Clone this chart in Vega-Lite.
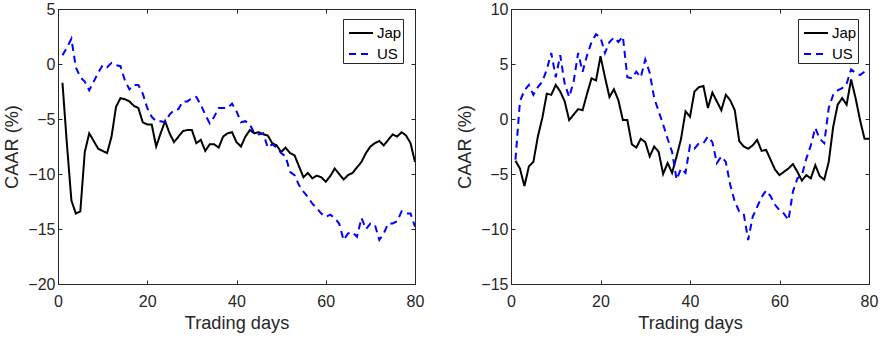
{
  "$schema": "https://vega.github.io/schema/vega-lite/v6.json",
  "padding": {"left": 2, "top": 0, "right": 5, "bottom": 2},
  "datasets": {
    "left": [
      {"day":1,"series":"Jap","value":-1.7},{"day":2,"series":"Jap","value":-7.3},{"day":3,"series":"Jap","value":-12.4},{"day":4,"series":"Jap","value":-13.6},{"day":5,"series":"Jap","value":-13.4},{"day":6,"series":"Jap","value":-8.0},{"day":7,"series":"Jap","value":-6.3},{"day":8,"series":"Jap","value":-7.0},{"day":9,"series":"Jap","value":-7.7},{"day":10,"series":"Jap","value":-7.9},
      {"day":11,"series":"Jap","value":-8.1},{"day":12,"series":"Jap","value":-6.6},{"day":13,"series":"Jap","value":-3.9},{"day":14,"series":"Jap","value":-3.1},{"day":15,"series":"Jap","value":-3.2},{"day":16,"series":"Jap","value":-3.4},{"day":17,"series":"Jap","value":-3.8},{"day":18,"series":"Jap","value":-4.0},{"day":19,"series":"Jap","value":-5.3},{"day":20,"series":"Jap","value":-5.5},
      {"day":21,"series":"Jap","value":-5.5},{"day":22,"series":"Jap","value":-7.5},{"day":23,"series":"Jap","value":-6.3},{"day":24,"series":"Jap","value":-5.2},{"day":25,"series":"Jap","value":-6.3},{"day":26,"series":"Jap","value":-7.1},{"day":27,"series":"Jap","value":-6.6},{"day":28,"series":"Jap","value":-6.1},{"day":29,"series":"Jap","value":-6.0},{"day":30,"series":"Jap","value":-6.0},
      {"day":31,"series":"Jap","value":-7.2},{"day":32,"series":"Jap","value":-6.9},{"day":33,"series":"Jap","value":-7.9},{"day":34,"series":"Jap","value":-7.3},{"day":35,"series":"Jap","value":-7.3},{"day":36,"series":"Jap","value":-7.6},{"day":37,"series":"Jap","value":-6.6},{"day":38,"series":"Jap","value":-6.3},{"day":39,"series":"Jap","value":-6.2},{"day":40,"series":"Jap","value":-7.1},
      {"day":41,"series":"Jap","value":-7.5},{"day":42,"series":"Jap","value":-6.6},{"day":43,"series":"Jap","value":-6.0},{"day":44,"series":"Jap","value":-6.3},{"day":45,"series":"Jap","value":-6.2},{"day":46,"series":"Jap","value":-6.4},{"day":47,"series":"Jap","value":-6.5},{"day":48,"series":"Jap","value":-7.2},{"day":49,"series":"Jap","value":-7.4},{"day":50,"series":"Jap","value":-8.0},
      {"day":51,"series":"Jap","value":-7.6},{"day":52,"series":"Jap","value":-8.1},{"day":53,"series":"Jap","value":-8.3},{"day":54,"series":"Jap","value":-9.3},{"day":55,"series":"Jap","value":-10.3},{"day":56,"series":"Jap","value":-9.9},{"day":57,"series":"Jap","value":-10.4},{"day":58,"series":"Jap","value":-10.15},{"day":59,"series":"Jap","value":-10.3},{"day":60,"series":"Jap","value":-10.7},
      {"day":61,"series":"Jap","value":-10.2},{"day":62,"series":"Jap","value":-9.5},{"day":63,"series":"Jap","value":-10.0},{"day":64,"series":"Jap","value":-10.5},{"day":65,"series":"Jap","value":-10.1},{"day":66,"series":"Jap","value":-9.9},{"day":67,"series":"Jap","value":-9.4},{"day":68,"series":"Jap","value":-8.9},{"day":69,"series":"Jap","value":-8.1},{"day":70,"series":"Jap","value":-7.5},
      {"day":71,"series":"Jap","value":-7.2},{"day":72,"series":"Jap","value":-7.0},{"day":73,"series":"Jap","value":-7.4},{"day":74,"series":"Jap","value":-6.9},{"day":75,"series":"Jap","value":-6.4},{"day":76,"series":"Jap","value":-6.6},{"day":77,"series":"Jap","value":-6.2},{"day":78,"series":"Jap","value":-6.5},{"day":79,"series":"Jap","value":-7.2},{"day":80,"series":"Jap","value":-8.9},
      {"day":1,"series":"US","value":0.8},{"day":2,"series":"US","value":1.5},{"day":3,"series":"US","value":2.3},{"day":4,"series":"US","value":-0.3},{"day":5,"series":"US","value":-1.2},{"day":6,"series":"US","value":-1.6},{"day":7,"series":"US","value":-2.4},{"day":8,"series":"US","value":-1.6},{"day":9,"series":"US","value":-0.8},{"day":10,"series":"US","value":-0.1},
      {"day":11,"series":"US","value":-0.3},{"day":12,"series":"US","value":0.1},{"day":13,"series":"US","value":-0.1},{"day":14,"series":"US","value":-0.2},{"day":15,"series":"US","value":-1.5},{"day":16,"series":"US","value":-2.3},{"day":17,"series":"US","value":-1.9},{"day":18,"series":"US","value":-1.9},{"day":19,"series":"US","value":-2.7},{"day":20,"series":"US","value":-4.0},
      {"day":21,"series":"US","value":-4.8},{"day":22,"series":"US","value":-5.2},{"day":23,"series":"US","value":-5.2},{"day":24,"series":"US","value":-5.3},{"day":25,"series":"US","value":-4.6},{"day":26,"series":"US","value":-4.2},{"day":27,"series":"US","value":-4.1},{"day":28,"series":"US","value":-3.4},{"day":29,"series":"US","value":-3.4},{"day":30,"series":"US","value":-3.1},
      {"day":31,"series":"US","value":-3.0},{"day":32,"series":"US","value":-3.7},{"day":33,"series":"US","value":-4.6},{"day":34,"series":"US","value":-5.4},{"day":35,"series":"US","value":-4.8},{"day":36,"series":"US","value":-4.0},{"day":37,"series":"US","value":-4.0},{"day":38,"series":"US","value":-4.0},{"day":39,"series":"US","value":-3.6},{"day":40,"series":"US","value":-4.3},
      {"day":41,"series":"US","value":-5.3},{"day":42,"series":"US","value":-5.2},{"day":43,"series":"US","value":-5.5},{"day":44,"series":"US","value":-6.3},{"day":45,"series":"US","value":-6.4},{"day":46,"series":"US","value":-6.3},{"day":47,"series":"US","value":-7.6},{"day":48,"series":"US","value":-7.3},{"day":49,"series":"US","value":-7.6},{"day":50,"series":"US","value":-8.1},
      {"day":51,"series":"US","value":-8.4},{"day":52,"series":"US","value":-9.8},{"day":53,"series":"US","value":-10.1},{"day":54,"series":"US","value":-11.0},{"day":55,"series":"US","value":-11.6},{"day":56,"series":"US","value":-12.1},{"day":57,"series":"US","value":-12.7},{"day":58,"series":"US","value":-13.1},{"day":59,"series":"US","value":-13.6},{"day":60,"series":"US","value":-13.9},
      {"day":61,"series":"US","value":-13.7},{"day":62,"series":"US","value":-14.0},{"day":63,"series":"US","value":-14.5},{"day":64,"series":"US","value":-16.0},{"day":65,"series":"US","value":-15.4},{"day":66,"series":"US","value":-15.3},{"day":67,"series":"US","value":-15.7},{"day":68,"series":"US","value":-14.0},{"day":69,"series":"US","value":-15.0},{"day":70,"series":"US","value":-14.5},
      {"day":71,"series":"US","value":-14.6},{"day":72,"series":"US","value":-16.0},{"day":73,"series":"US","value":-15.4},{"day":74,"series":"US","value":-14.5},{"day":75,"series":"US","value":-14.5},{"day":76,"series":"US","value":-14.3},{"day":77,"series":"US","value":-13.4},{"day":78,"series":"US","value":-13.6},{"day":79,"series":"US","value":-13.6},{"day":80,"series":"US","value":-14.8}
    ],
    "right": [
      {"day":1,"series":"Jap","value":-3.8},{"day":2,"series":"Jap","value":-4.5},{"day":3,"series":"Jap","value":-6.1},{"day":4,"series":"Jap","value":-4.3},{"day":5,"series":"Jap","value":-3.9},{"day":6,"series":"Jap","value":-1.6},{"day":7,"series":"Jap","value":0.1},{"day":8,"series":"Jap","value":2.3},{"day":9,"series":"Jap","value":2.2},{"day":10,"series":"Jap","value":3.1},
      {"day":11,"series":"Jap","value":2.5},{"day":12,"series":"Jap","value":1.6},{"day":13,"series":"Jap","value":-0.1},{"day":14,"series":"Jap","value":0.4},{"day":15,"series":"Jap","value":0.9},{"day":16,"series":"Jap","value":0.8},{"day":17,"series":"Jap","value":2.3},{"day":18,"series":"Jap","value":3.7},{"day":19,"series":"Jap","value":3.5},{"day":20,"series":"Jap","value":5.7},
      {"day":21,"series":"Jap","value":3.8},{"day":22,"series":"Jap","value":2.0},{"day":23,"series":"Jap","value":2.7},{"day":24,"series":"Jap","value":1.7},{"day":25,"series":"Jap","value":-0.1},{"day":26,"series":"Jap","value":-0.1},{"day":27,"series":"Jap","value":-2.3},{"day":28,"series":"Jap","value":-2.6},{"day":29,"series":"Jap","value":-1.8},{"day":30,"series":"Jap","value":-2.1},
      {"day":31,"series":"Jap","value":-3.4},{"day":32,"series":"Jap","value":-2.5},{"day":33,"series":"Jap","value":-3.0},{"day":34,"series":"Jap","value":-5.0},{"day":35,"series":"Jap","value":-4.0},{"day":36,"series":"Jap","value":-4.9},{"day":37,"series":"Jap","value":-3.4},{"day":38,"series":"Jap","value":-1.8},{"day":39,"series":"Jap","value":0.7},{"day":40,"series":"Jap","value":0.2},
      {"day":41,"series":"Jap","value":2.5},{"day":42,"series":"Jap","value":2.9},{"day":43,"series":"Jap","value":3.0},{"day":44,"series":"Jap","value":1.0},{"day":45,"series":"Jap","value":2.4},{"day":46,"series":"Jap","value":1.6},{"day":47,"series":"Jap","value":0.8},{"day":48,"series":"Jap","value":2.2},{"day":49,"series":"Jap","value":1.7},{"day":50,"series":"Jap","value":0.8},
      {"day":51,"series":"Jap","value":-2.0},{"day":52,"series":"Jap","value":-2.5},{"day":53,"series":"Jap","value":-2.7},{"day":54,"series":"Jap","value":-2.4},{"day":55,"series":"Jap","value":-1.9},{"day":56,"series":"Jap","value":-2.9},{"day":57,"series":"Jap","value":-2.8},{"day":58,"series":"Jap","value":-3.7},{"day":59,"series":"Jap","value":-4.6},{"day":60,"series":"Jap","value":-5.1},
      {"day":61,"series":"Jap","value":-4.8},{"day":62,"series":"Jap","value":-4.5},{"day":63,"series":"Jap","value":-4.1},{"day":64,"series":"Jap","value":-4.8},{"day":65,"series":"Jap","value":-5.6},{"day":66,"series":"Jap","value":-5.1},{"day":67,"series":"Jap","value":-5.4},{"day":68,"series":"Jap","value":-4.2},{"day":69,"series":"Jap","value":-5.2},{"day":70,"series":"Jap","value":-5.5},
      {"day":71,"series":"Jap","value":-3.9},{"day":72,"series":"Jap","value":-0.7},{"day":73,"series":"Jap","value":1.3},{"day":74,"series":"Jap","value":1.9},{"day":75,"series":"Jap","value":1.3},{"day":76,"series":"Jap","value":3.6},{"day":77,"series":"Jap","value":1.9},{"day":78,"series":"Jap","value":-0.1},{"day":79,"series":"Jap","value":-1.8},{"day":80,"series":"Jap","value":-1.8},
      {"day":1,"series":"US","value":-3.7},{"day":2,"series":"US","value":1.6},{"day":3,"series":"US","value":2.6},{"day":4,"series":"US","value":3.1},{"day":5,"series":"US","value":2.2},{"day":6,"series":"US","value":2.9},{"day":7,"series":"US","value":3.4},{"day":8,"series":"US","value":4.5},{"day":9,"series":"US","value":6.0},{"day":10,"series":"US","value":3.8},
      {"day":11,"series":"US","value":5.8},{"day":12,"series":"US","value":3.2},{"day":13,"series":"US","value":2.0},{"day":14,"series":"US","value":3.4},{"day":15,"series":"US","value":6.0},{"day":16,"series":"US","value":4.3},{"day":17,"series":"US","value":5.8},{"day":18,"series":"US","value":7.0},{"day":19,"series":"US","value":7.7},{"day":20,"series":"US","value":7.4},
      {"day":21,"series":"US","value":6.0},{"day":22,"series":"US","value":7.0},{"day":23,"series":"US","value":7.4},{"day":24,"series":"US","value":7.0},{"day":25,"series":"US","value":7.5},{"day":26,"series":"US","value":3.8},{"day":27,"series":"US","value":3.7},{"day":28,"series":"US","value":4.3},{"day":29,"series":"US","value":3.8},{"day":30,"series":"US","value":5.4},
      {"day":31,"series":"US","value":4.2},{"day":32,"series":"US","value":1.9},{"day":33,"series":"US","value":0.7},{"day":34,"series":"US","value":-0.5},{"day":35,"series":"US","value":-1.8},{"day":36,"series":"US","value":-3.0},{"day":37,"series":"US","value":-5.5},{"day":38,"series":"US","value":-4.5},{"day":39,"series":"US","value":-4.9},{"day":40,"series":"US","value":-2.4},
      {"day":41,"series":"US","value":-2.7},{"day":42,"series":"US","value":-2.2},{"day":43,"series":"US","value":-2.2},{"day":44,"series":"US","value":-1.6},{"day":45,"series":"US","value":-2.1},{"day":46,"series":"US","value":-4.0},{"day":47,"series":"US","value":-3.4},{"day":48,"series":"US","value":-3.9},{"day":49,"series":"US","value":-6.0},{"day":50,"series":"US","value":-7.5},
      {"day":51,"series":"US","value":-8.4},{"day":52,"series":"US","value":-8.6},{"day":53,"series":"US","value":-11.0},{"day":54,"series":"US","value":-8.9},{"day":55,"series":"US","value":-8.0},{"day":56,"series":"US","value":-7.1},{"day":57,"series":"US","value":-6.5},{"day":58,"series":"US","value":-7.0},{"day":59,"series":"US","value":-7.8},{"day":60,"series":"US","value":-8.3},
      {"day":61,"series":"US","value":-8.6},{"day":62,"series":"US","value":-9.2},{"day":63,"series":"US","value":-6.6},{"day":64,"series":"US","value":-5.4},{"day":65,"series":"US","value":-5.1},{"day":66,"series":"US","value":-3.6},{"day":67,"series":"US","value":-2.4},{"day":68,"series":"US","value":-0.8},{"day":69,"series":"US","value":-1.8},{"day":70,"series":"US","value":-2.2},
      {"day":71,"series":"US","value":1.0},{"day":72,"series":"US","value":2.2},{"day":73,"series":"US","value":2.6},{"day":74,"series":"US","value":2.8},{"day":75,"series":"US","value":3.2},{"day":76,"series":"US","value":4.5},{"day":77,"series":"US","value":4.2},{"day":78,"series":"US","value":4.0},{"day":79,"series":"US","value":4.3},{"day":80,"series":"US","value":4.5}
    ]
  },
  "hconcat": [
    {
      "width": 357, "height": 275,
      "data": {"name": "left"},
      "layer": [
        {
          "mark": {"type": "line", "strokeWidth": 2, "clip": true},
          "encoding": {
            "x": {"field": "day", "type": "quantitative", "scale": {"domain": [0, 80], "nice": false, "zero": false}, "axis": {"values": [0, 20, 40, 60, 80], "title": "Trading days"}},
            "y": {"field": "value", "type": "quantitative", "scale": {"domain": [-20, 5], "nice": false, "zero": false}, "axis": {"values": [-20, -15, -10, -5, 0, 5], "title": "CAAR (%)"}},
            "stroke": {"field": "series", "type": "nominal", "scale": {"domain": ["Jap", "US"], "range": ["#000000", "#0000ff"]}, "legend": {"title": null, "orient": "none", "legendX": 285, "legendY": 10}},
            "strokeDash": {"field": "series", "type": "nominal", "scale": {"domain": ["Jap", "US"], "range": [[1, 0], [7, 5]]}, "legend": {"title": null, "orient": "none", "legendX": 285, "legendY": 10}}
          }
        },
        {
          "mark": {"type": "point", "opacity": 0},
          "encoding": {
            "x": {"field": "day", "type": "quantitative", "scale": {"domain": [0, 80], "nice": false, "zero": false}, "axis": {"orient": "top", "values": [0, 20, 40, 60, 80], "labels": false, "title": null}},
            "y": {"field": "value", "type": "quantitative", "scale": {"domain": [-20, 5], "nice": false, "zero": false}, "axis": {"orient": "right", "values": [-20, -15, -10, -5, 0, 5], "labels": false, "title": null}}
          }
        }
      ],
      "resolve": {"axis": {"x": "independent", "y": "independent"}}
    },
    {
      "width": 358, "height": 275,
      "data": {"name": "right"},
      "layer": [
        {
          "mark": {"type": "line", "strokeWidth": 2, "clip": true},
          "encoding": {
            "x": {"field": "day", "type": "quantitative", "scale": {"domain": [0, 80], "nice": false, "zero": false}, "axis": {"values": [0, 20, 40, 60, 80], "title": "Trading days"}},
            "y": {"field": "value", "type": "quantitative", "scale": {"domain": [-15, 10], "nice": false, "zero": false}, "axis": {"values": [-15, -10, -5, 0, 5, 10], "title": "CAAR (%)"}},
            "stroke": {"field": "series", "type": "nominal", "scale": {"domain": ["Jap", "US"], "range": ["#000000", "#0000ff"]}, "legend": {"title": null, "orient": "none", "legendX": 287, "legendY": 10}},
            "strokeDash": {"field": "series", "type": "nominal", "scale": {"domain": ["Jap", "US"], "range": [[1, 0], [7, 5]]}, "legend": {"title": null, "orient": "none", "legendX": 287, "legendY": 10}}
          }
        },
        {
          "mark": {"type": "point", "opacity": 0},
          "encoding": {
            "x": {"field": "day", "type": "quantitative", "scale": {"domain": [0, 80], "nice": false, "zero": false}, "axis": {"orient": "top", "values": [0, 20, 40, 60, 80], "labels": false, "title": null}},
            "y": {"field": "value", "type": "quantitative", "scale": {"domain": [-15, 10], "nice": false, "zero": false}, "axis": {"orient": "right", "values": [-15, -10, -5, 0, 5, 10], "labels": false, "title": null}}
          }
        }
      ],
      "resolve": {"axis": {"x": "independent", "y": "independent"}}
    }
  ],
  "resolve": {"scale": {"stroke": "independent", "strokeDash": "independent"}, "legend": {"stroke": "independent", "strokeDash": "independent"}},
  "spacing": 30,
  "config": {
    "font": "Liberation Sans",
    "view": {"stroke": "#262626", "strokeWidth": 1},
    "axis": {
      "grid": false,
      "ticks": true,
      "labelFlush": false,
      "domainColor": "#262626",
      "tickColor": "#262626",
      "tickWidth": 1,
      "labelColor": "#262626",
      "titleColor": "#262626",
      "labelFont": "Liberation Sans",
      "titleFont": "Liberation Sans",
      "labelFontSize": 16,
      "titleFontSize": 18.2,
      "titleFontWeight": "normal",
      "tickSize": -4,
      "labelPadding": 7
    },
    "axisX": {"titlePadding": 5, "labelPadding": 13},
    "axisY": {"titlePadding": 6},
    "legend": {
      "strokeColor": "#262626",
      "fillColor": "#ffffff",
      "padding": 1,
      "symbolOffset": 4,
      "symbolType": "stroke",
      "symbolSize": 576,
      "symbolStrokeWidth": 2,
      "labelFontSize": 15,
      "labelColor": "#000000",
      "labelFont": "Liberation Sans",
      "labelOffset": 3,
      "rowPadding": -5
    }
  }
}
